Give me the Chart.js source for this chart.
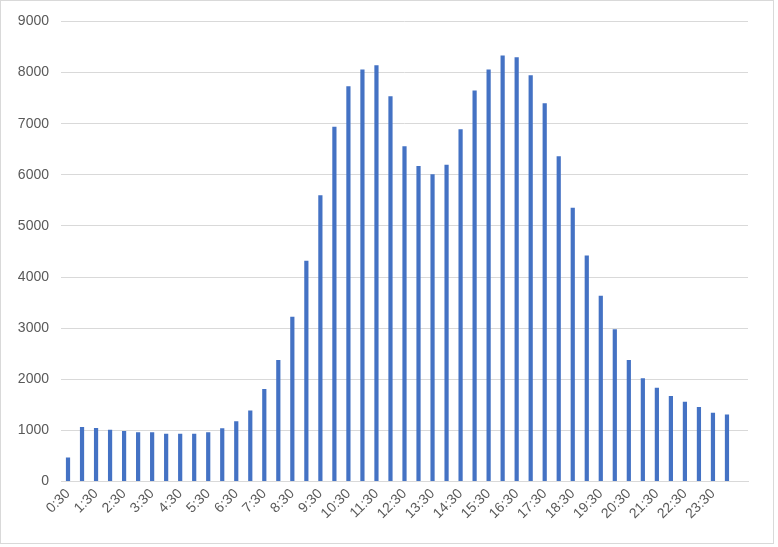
<!DOCTYPE html>
<html lang="en">
<head>
  <meta charset="UTF-8">
  <title>Half-hourly counts</title>
  <script src="https://cdn.jsdelivr.net/npm/chart.js"></script>
  <style>
    html, body {
      margin: 0;
      padding: 0;
      background: #fff;
    }

    .chart-box {
      position: absolute;
      left: 0;
      top: 0;
      width: 774px;
      height: 544px;
      border: 1px solid #d9d9d9;
      box-sizing: border-box;
    }

    canvas {
      display: block;
    }
  </style>
</head>
<body>
  <div class="chart-box">
    <canvas id="barChart" width="772" height="542"></canvas>
  </div>

<script>
  // time slots (last slot is an empty category, as in the original)
  const times = [
    '0:30', '1:00', '1:30', '2:00', '2:30', '3:00', '3:30', '4:00',
    '4:30', '5:00', '5:30', '6:00', '6:30', '7:00', '7:30', '8:00',
    '8:30', '9:00', '9:30', '10:00', '10:30', '11:00', '11:30', '12:00',
    '12:30', '13:00', '13:30', '14:00', '14:30', '15:00', '15:30', '16:00',
    '16:30', '17:00', '17:30', '18:00', '18:30', '19:00', '19:30', '20:00',
    '20:30', '21:00', '21:30', '22:00', '22:30', '23:00', '23:30', '24:00', ''
  ];

  const counts = [
    470, 1066, 1047, 1014, 988, 962, 962, 936,
    936, 936, 962, 1040, 1177, 1391, 1807, 2379,
    3224, 4320, 5600, 6938, 7732, 8058, 8142, 7537,
    6556, 6172, 6010, 6198, 6888, 7648, 8058, 8331,
    8298, 7947, 7401, 6361, 5353, 4423, 3634, 2977,
    2379, 2022, 1833, 1671, 1560, 1456, 1346, 1313, null
  ];

  const yMax = 9000;
  const yStep = 1000;

  const tickFont = { family: "'Liberation Sans', Arial, sans-serif", size: 14 };

  const ctx = document.getElementById('barChart').getContext('2d');

  new Chart(ctx, {
    type: 'bar',
    data: {
      labels: times,
      datasets: [{
        data: counts,
        backgroundColor: '#4472C4',
        borderWidth: 0,
        categoryPercentage: 1,
        barPercentage: 0.3
      }]
    },
    options: {
      responsive: false,
      animation: false,
      layout: {
        padding: { top: 19, right: 25, bottom: 0, left: 0 }
      },
      plugins: {
        legend: { display: false },
        tooltip: { enabled: false }
      },
      scales: {
        x: {
          grid: { display: false, drawTicks: false },
          border: { display: true, color: '#d9d9d9' },
          ticks: {
            color: '#595959',
            font: tickFont,
            autoSkip: false,
            minRotation: 45,
            maxRotation: 45,
            padding: 4,
            callback: (v, i) => i % 2 === 0 ? times[i] : ''
          },
          afterFit: scale => { scale.height = 61.5; }
        },
        y: {
          min: 0,
          max: yMax,
          grid: { color: '#d9d9d9', drawTicks: false },
          border: { display: false },
          ticks: {
            stepSize: yStep,
            color: '#595959',
            font: tickFont,
            padding: 12,
            callback: v => String(v)
          },
          afterFit: scale => { scale.width = 60; }
        }
      }
    }
  });
</script>

</body>
</html>
